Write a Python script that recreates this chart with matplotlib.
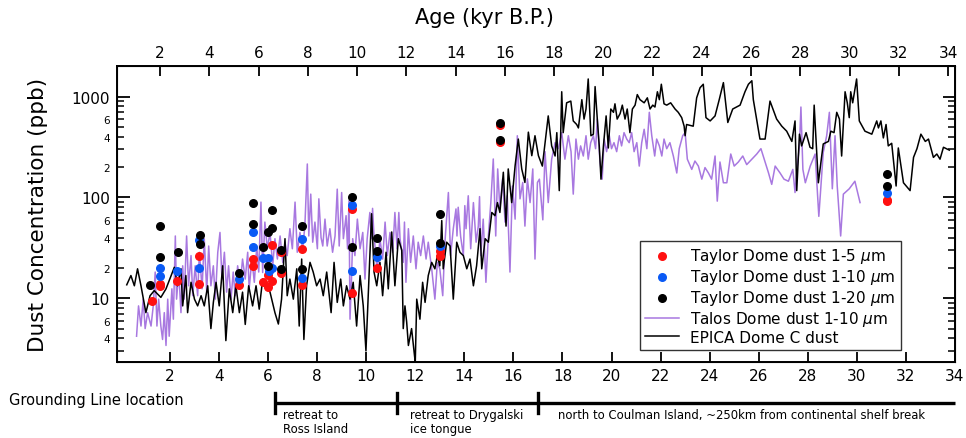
import matplotlib
matplotlib.use("Agg")
import matplotlib.pyplot as plt
from matplotlib.ticker import LogLocator, FuncFormatter, NullLocator
from matplotlib.transforms import blended_transform_factory

# EPICA Dome C dust (age kyr, ppb)
epica_age = [0.24, 0.41, 0.55, 0.68, 0.82, 1.02, 1.19, 1.36, 1.63, 1.84, 2.18, 2.31, 2.45, 2.52,
             2.65, 2.72, 2.86, 3.00, 3.13, 3.27, 3.40, 3.54, 3.67, 3.77, 3.88, 4.01, 4.15, 4.28,
             4.42, 4.56, 4.69, 4.83, 4.96, 5.07, 5.21, 5.37, 5.51, 5.64, 5.78, 5.94, 6.08, 6.28,
             6.42, 6.55, 6.69, 6.78, 6.89, 7.03, 7.17, 7.27, 7.37, 7.46, 7.57, 7.71, 7.84, 7.98,
             8.12, 8.25, 8.39, 8.57, 8.69, 8.82, 8.96, 9.07, 9.20, 9.34, 9.47, 9.61, 9.75, 9.88,
             9.99, 10.09, 10.22, 10.32, 10.43, 10.56, 10.67, 10.81, 10.90, 11.04, 11.17, 11.31,
             11.45, 11.51, 11.58, 11.65, 11.72, 11.85, 12.00, 12.06, 12.19, 12.30, 12.40, 12.53,
             12.67, 12.80, 12.90, 13.00, 13.08, 13.14, 13.28, 13.42, 13.55, 13.69, 13.82, 13.96,
             14.10, 14.23, 14.37, 14.50, 14.64, 14.71, 14.85, 14.98, 15.12, 15.25, 15.35, 15.45,
             15.59, 15.70, 15.79, 15.93, 16.07, 16.20, 16.34, 16.47, 16.61, 16.75, 16.88, 17.02,
             17.18, 17.42, 17.56, 17.70, 17.77, 17.87, 17.97, 18.03, 18.17, 18.34, 18.44, 18.58,
             18.65, 18.79, 18.88, 18.96, 19.05, 19.16, 19.26, 19.33, 19.42, 19.50, 19.57, 19.67,
             19.78, 19.87, 19.97, 20.08, 20.14, 20.23, 20.35, 20.44, 20.55, 20.64, 20.75, 20.85,
             20.96, 21.05, 21.16, 21.33, 21.46, 21.57, 21.68, 21.77, 21.87, 21.95, 22.03, 22.14,
             22.25, 22.41, 22.59, 22.72, 22.86, 22.96, 23.00, 23.06, 23.33, 23.47, 23.61, 23.74,
             23.85, 24.02, 24.22, 24.39, 24.56, 24.74, 24.94, 25.24, 25.44, 25.58, 25.72, 25.78,
             26.05, 26.26, 26.46, 26.73, 26.94, 27.14, 27.35, 27.48, 27.55, 27.66, 27.75, 27.93,
             28.09, 28.20, 28.26, 28.43, 28.63, 28.84, 28.94, 29.07, 29.18, 29.29, 29.38, 29.52,
             29.61, 29.69, 29.75, 29.83, 29.99, 30.10, 30.33, 30.61, 30.81, 30.88, 30.98, 31.08,
             31.19, 31.28, 31.42, 31.60, 31.69, 31.90, 32.17, 32.31, 32.45, 32.61, 32.79, 32.92,
             33.12, 33.26, 33.39, 33.53, 33.77]
epica_dust = [13.6, 16.8, 13.3, 19.6, 13.3, 7.2, 10.6, 11.9, 10.2, 12.4, 20.3, 13.3, 19.6, 8.4,
              16.8, 7.2, 14.4, 9.8, 8.4, 10.6, 8.4, 13.3, 5.0, 9.1, 14.4, 8.4, 21, 3.8,
              12.4, 7.2, 13.3, 7.2, 11.5, 5.5, 13.3, 8.4, 13.3, 7.8, 15.5, 13.3, 11.5, 7.2,
              5.55, 9.8, 39, 10.6, 15.5, 9.8, 19.6, 5.3, 24.5, 3.9, 13.3, 22.7, 18.2, 13.3,
              15.5, 10.6, 18.2, 7.2, 22.7, 9.1, 15.5, 8.4, 13.3, 9.8, 14.4, 5.3, 16.8, 8.4,
              3.0, 11.5, 69, 18.2, 13.3, 22.7, 10.6, 28.6, 12.4, 45.5, 13.3, 39,
              30, 5.0, 8.4, 5.8, 3.4, 5.0, 2.3, 9.8, 6.2, 14.4, 9.1, 16.8,
              22.7, 19.6, 26.5, 21, 59, 19.6, 36, 33, 9.8, 36, 28.6, 26.5,
              19.6, 24.5, 13.3, 21, 49, 19.6, 39, 36, 71, 66, 89, 71,
              178, 52, 192, 89, 207, 380, 192, 141, 445, 260, 410, 260,
              205, 645, 325, 258, 440, 117, 1120, 440, 870, 905, 575, 530,
              490, 935, 600, 755, 1500, 410, 425, 1260, 600, 325, 152, 325,
              645, 310, 755, 700, 850, 600, 680, 825, 600, 755, 440, 755,
              825, 1050, 935, 870, 975, 755, 825, 790, 1120, 935, 1330, 850,
              825, 870, 755, 700, 620, 510, 410, 530, 510, 975, 1230, 1330,
              620, 575, 645, 935, 1380, 555, 755, 825, 1120, 1330, 1440, 935,
              380, 380, 905, 600, 510, 455, 360, 575, 117, 425, 325, 440,
              315, 305, 825, 140, 340, 360, 455, 440, 700, 600, 258, 1120,
              870, 620, 1120, 870, 1500, 575, 455, 425, 575, 490, 575, 390,
              530, 325, 345, 130, 310, 140, 117, 250, 305, 425, 360, 380,
              250, 270, 240, 315, 295]

# Talos Dome dust 1-10 um
talos_age = [0.64, 0.72, 0.82, 0.91, 0.99, 1.09, 1.23, 1.32, 1.40, 1.47, 1.54, 1.63, 1.70, 1.77,
             1.84, 1.91, 1.97, 2.08, 2.14, 2.22, 2.27, 2.36, 2.45, 2.52, 2.58, 2.68, 2.76, 2.86,
             2.93, 3.03, 3.13, 3.20, 3.31, 3.40, 3.50, 3.58, 3.67, 3.77, 3.85, 3.95, 4.04, 4.12,
             4.22, 4.31, 4.39, 4.49, 4.58, 4.66, 4.76, 4.86, 4.96, 5.07, 5.17, 5.23, 5.34, 5.44,
             5.54, 5.62, 5.71, 5.78, 5.87, 5.97, 6.08, 6.19, 6.28, 6.38, 6.49, 6.60, 6.69, 6.78,
             6.89, 6.99, 7.10, 7.19, 7.30, 7.41, 7.50, 7.60, 7.66, 7.74, 7.82, 7.91, 8.01, 8.07,
             8.16, 8.23, 8.32, 8.41, 8.52, 8.63, 8.73, 8.82, 8.90, 9.00, 9.07, 9.18, 9.24, 9.30,
             9.34, 9.40, 9.45, 9.54, 9.64, 9.75, 9.86, 9.95, 10.04, 10.15, 10.21, 10.26, 10.31,
             10.45, 10.56, 10.67, 10.77, 10.86, 10.97, 11.08, 11.17, 11.26, 11.33, 11.38, 11.51,
             11.56, 11.62, 11.72, 11.81, 11.92, 12.03, 12.12, 12.22, 12.33, 12.44, 12.53, 12.67,
             12.80, 12.90, 13.00, 13.12, 13.21, 13.35, 13.44, 13.55, 13.66, 13.70, 13.75, 13.85,
             13.96, 14.02, 14.07, 14.16, 14.26, 14.37, 14.48, 14.57, 14.62, 14.67, 14.77, 14.88,
             14.98, 15.08, 15.18, 15.28, 15.36, 15.45, 15.56, 15.66, 15.75, 15.86, 15.96, 16.07,
             16.16, 16.27, 16.38, 16.47, 16.57, 16.68, 16.79, 16.88, 16.98, 17.06, 17.20, 17.29,
             17.42, 17.56, 17.70, 17.83, 17.97, 18.10, 18.24, 18.35, 18.44, 18.55, 18.65, 18.74,
             18.85, 18.96, 19.05, 19.15, 19.26, 19.35, 19.42, 19.53, 19.62, 19.70, 19.80, 19.91,
             20.00, 20.10, 20.21, 20.32, 20.41, 20.51, 20.62, 20.72, 20.82, 20.92, 21.03, 21.13,
             21.23, 21.33, 21.44, 21.54, 21.64, 21.76, 21.84, 21.95, 22.05, 22.14, 22.25, 22.38,
             22.52, 22.66, 22.76, 22.90, 23.00, 23.09, 23.27, 23.40, 23.54, 23.68, 23.81, 23.95,
             24.08, 24.22, 24.31, 24.42, 24.56, 24.70, 24.86, 25.00, 25.17, 25.35, 25.51, 25.72,
             25.92, 26.09, 26.26, 26.40, 26.53, 26.67, 26.87, 27.03, 27.21, 27.39, 27.48, 27.57,
             27.66, 27.72, 27.80, 27.90, 28.10, 28.30, 28.45, 28.63, 28.77, 28.88, 29.00, 29.11,
             29.20, 29.34, 29.45, 29.69, 29.92, 30.13]
talos_dust = [4.2, 8.4, 5.3, 9.8, 5.0, 7.2, 5.3, 8.4, 18.2, 5.3, 9.8, 5.3, 3.9, 7.2,
              3.4, 9.8, 4.2, 12.4, 6.2, 41.5, 9.8, 18.2, 7.2, 21, 9.8, 41.5, 13.3, 26.5,
              10.6, 21, 10.6, 28.6, 12.4, 39, 11.5, 33, 13.3, 21, 9.8, 28.6, 45, 15.5,
              28.6, 11.5, 21, 9.8, 18.2, 10.6, 21, 13.3, 24.5, 15.5, 28.6, 12.4, 24.5, 14.4,
              33, 18.2, 90, 18, 57, 31, 45, 21, 39, 24.5, 41.5, 22.7, 36, 26.5,
              49, 31, 90, 28.6, 45, 31, 52, 215, 41.5, 108, 36, 57, 31, 97,
              40, 33, 61, 33, 49, 28.6, 41.5, 121, 33, 112, 39, 66, 31, 93,
              6.2, 15.5, 39, 26.5, 61, 31, 45, 15.5, 39, 71, 39, 78, 45,
              18.2, 39, 24.5, 57, 26.5, 45, 28.6, 71, 31, 71, 39, 22.7,
              57, 14.4, 49, 22.7, 41.5, 19.6, 36, 26.5, 41.5, 24.5, 36, 19.6,
              9.8, 22.7, 19.6, 10.6, 36, 112, 26.5, 49, 77, 41.5, 80, 41,
              26.5, 83, 49, 104, 31, 89, 36, 52, 102, 26.5, 61, 14.4,
              41.5, 89, 241, 41.5, 192, 77, 153, 57, 104, 18.2, 130, 61,
              410, 97, 141, 52, 153, 89, 192, 24.5, 141, 152, 60, 285,
              89, 240, 350, 305, 440, 240, 410, 285, 108, 380, 240, 325,
              258, 410, 240, 350, 410, 305, 600, 225, 152, 380, 285, 410,
              305, 350, 285, 410, 325, 440, 380, 350, 440, 285, 350, 205,
              350, 475, 305, 700, 410, 258, 380, 325, 258, 380, 305, 350,
              258, 175, 305, 410, 440, 240, 190, 230, 205, 152, 198, 175,
              152, 258, 92, 225, 140, 140, 270, 205, 225, 258, 212, 240,
              270, 305, 225, 175, 135, 205, 175, 152, 145, 190, 112, 205,
              325, 790, 190, 140, 205, 270, 65, 280, 410, 700, 122, 410,
              130, 41.5, 108, 122, 145, 89]

# Taylor Dome samples
red_age = [1.25, 1.6, 1.6, 2.3, 3.2, 3.2, 4.8, 5.37, 5.37, 5.8, 6.0, 6.0, 6.15, 6.15, 6.53, 6.53,
           7.37, 7.37, 9.42, 9.42, 10.45, 13.0, 13.0, 15.44, 15.44, 31.23, 31.23]
red_dust = [9.4, 14, 13.2, 15, 26, 13.9, 13.6, 24.5, 20.8, 14.4, 17, 13, 15, 34, 28.5, 17.7,
            31, 13.6, 76, 11.4, 20, 29.5, 26.5, 525, 355, 95, 92]
blue_age = [1.6, 1.6, 2.3, 3.2, 3.2, 4.8, 5.37, 5.37, 5.8, 6.0, 6.05, 6.15, 7.37, 7.37, 9.42, 9.42,
            10.45, 13.0, 31.23]
blue_dust = [20, 16.5, 18.5, 38, 20, 15.5, 45, 32, 25, 25, 18.5, 20, 39, 16, 85, 18.7,
             25.5, 33.3, 112]
black_age = [1.2, 1.6, 1.6, 2.31, 3.21, 3.21, 4.8, 5.37, 5.37, 5.8, 6.0, 6.15, 6.15, 6.0, 6.53,
             6.53, 7.37, 7.37, 9.42, 9.42, 10.45, 10.45, 13.0, 13.0, 15.44, 15.44, 31.23, 31.23]
black_dust = [13.5, 52, 25.5, 28.5, 42, 34.5, 18, 88, 55, 32, 45, 75, 49.5, 20.8, 30,
              19.6, 52.5, 19.6, 102, 32.5, 39.7, 29.7, 68, 35.6, 550, 370, 170, 129]

# grounding line stages (kyr)
gl_edges = [6.3, 11.25, 17.0, 34.0]
gl_labels = ["retreat to\nRoss Island", "retreat to Drygalski\nice tongue",
             "north to Coulman Island, ~250km from continental shelf break"]

purple = "#a878e0"

fig = plt.figure(figsize=(9.66, 4.39), dpi=100)
ax = fig.add_axes([0.1208, 0.1731, 0.8678, 0.6743])

ax.plot(talos_age, talos_dust, color=purple, lw=1.1, label="Talos Dome dust 1-10 $\\mu$m", zorder=2)
ax.plot(epica_age, epica_dust, color="black", lw=1.1, label="EPICA Dome C dust", zorder=3)
ax.scatter(red_age, red_dust, s=30, color="#ff1010", zorder=4, label="Taylor Dome dust 1-5 $\\mu$m")
ax.scatter(blue_age, blue_dust, s=30, color="#0a5af5", zorder=5, label="Taylor Dome dust 1-10 $\\mu$m")
ax.scatter(black_age, black_dust, s=30, color="black", zorder=6, label="Taylor Dome dust 1-20 $\\mu$m")

ax.set_yscale("log")
ax.set_ylim(2.33, 2018)
ax.set_xlim(-0.17, 34.0)
ax.set_xticks(range(2, 35, 2))
ax.xaxis.set_minor_locator(NullLocator())
ax.yaxis.set_major_locator(LogLocator(base=10))
ax.yaxis.set_minor_locator(LogLocator(base=10, subs=range(2, 10)))


def minor_fmt(v, pos):
    m = round(v / 10 ** int(f"{v:e}".split("e")[1]))
    if m in (2, 4, 6) and v < 1000:
        return str(m)
    return ""


ax.yaxis.set_minor_formatter(FuncFormatter(minor_fmt))
ax.yaxis.set_major_formatter(FuncFormatter(lambda v, p: f"{int(v)}"))
ax.tick_params(axis="both", which="both", direction="in", right=True, top=False)
ax.tick_params(axis="x", which="major", length=7, width=1.3, labelsize=11, pad=4)
ax.tick_params(axis="y", which="major", length=9, width=1.3, labelsize=11, pad=5)
ax.tick_params(axis="y", which="minor", length=5, width=1.1, labelsize=7.5, pad=5)
for s in ax.spines.values():
    s.set_linewidth(1.4)

ax.set_ylabel("Dust Concentration (ppb)", fontsize=15.5, labelpad=17)

# top age axis, slightly shifted
ax2 = ax.twiny()
ax2.set_xlim(0.24, 34.28)
ax2.set_xticks(range(2, 35, 2))
ax2.tick_params(axis="x", direction="in", length=7, width=1.3, labelsize=11, pad=4)
fig.text(0.501, 0.959, "Age (kyr B.P.)", fontsize=15, ha="center", va="center")

handles, labels = ax.get_legend_handles_labels()
order = [2, 3, 4, 0, 1]
leg = ax.legend([handles[i] for i in order], [labels[i] for i in order],
                loc="lower left", bbox_to_anchor=(0.624, 0.04), borderaxespad=0,
                fontsize=11, frameon=True, fancybox=False, edgecolor="black",
                handlelength=2.2, handletextpad=0.75, labelspacing=0.12, borderpad=0.35)
leg.get_frame().set_linewidth(1.0)

# grounding line panel
tr = blended_transform_factory(ax.transData, fig.transFigure)
fig.text(0.009, 0.087, "Grounding Line location", fontsize=10.5, va="center", ha="left")
ax.plot([gl_edges[0], gl_edges[-1]], [0.080, 0.080], transform=tr, color="black",
        lw=2.4, clip_on=False, solid_capstyle="butt")
for e in gl_edges[:-1]:
    ax.plot([e, e], [0.057, 0.103], transform=tr, color="black", lw=2.4, clip_on=False)
for e, lab, off in zip(gl_edges[:-1], gl_labels, [0.3, 0.55, 0.8]):
    ax.text(e + off, 0.068, lab, transform=tr, fontsize=8.4, va="top", ha="left",
            linespacing=1.1)

fig.savefig("out.png", dpi=100)
